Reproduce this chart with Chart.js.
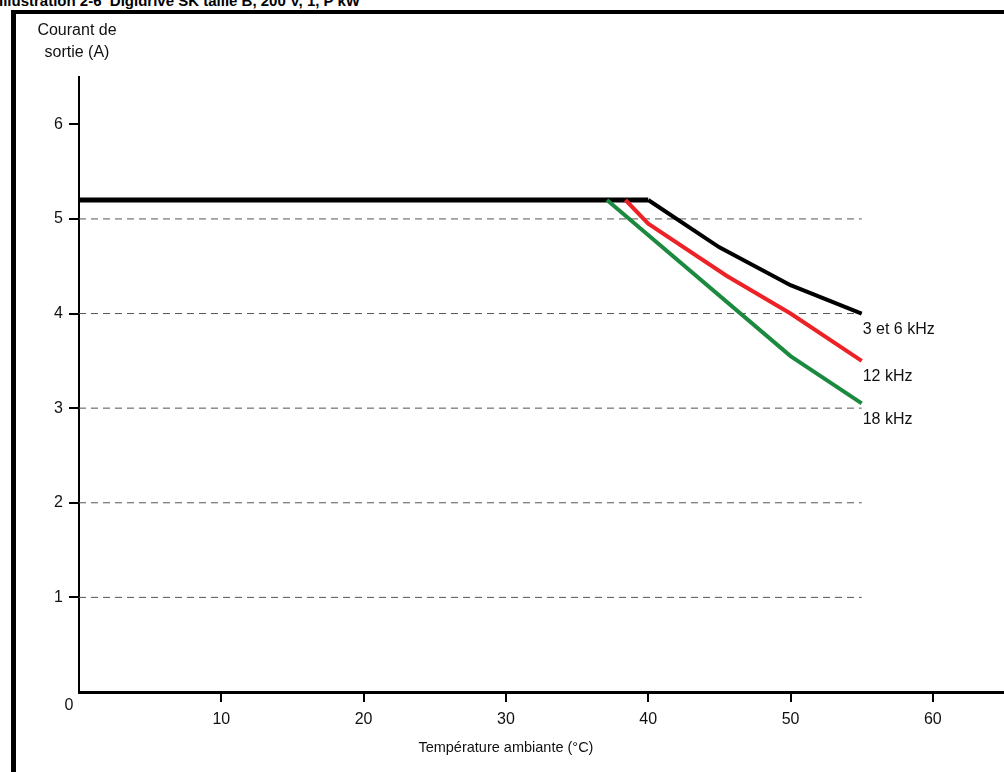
<!DOCTYPE html>
<html>
<head>
<meta charset="utf-8">
<script src="https://cdn.jsdelivr.net/npm/chart.js@4"></script>
<style>
  body { margin: 0; background: #fff; }
  #wrap { position: relative; width: 1004px; height: 772px; overflow: hidden; }
  #myChart { position: absolute; left: 0; top: 0; }
  .frameTop { position: absolute; left: 11px; top: 10px; width: 993px; height: 4px; background: #000; }
  .frameLeft { position: absolute; left: 11px; top: 10px; width: 5px; height: 762px; background: #000; }
  .cutTitle { position: absolute; left: -1px; top: -8px; font: bold 15px "Liberation Sans", Arial, sans-serif; white-space: pre; color: #000; }
</style>
</head>
<body>
<div id="wrap">
  <div class="cutTitle">Illustration 2-6  Digidrive SK taille B, 200 V, 1, P kW</div>
  <div class="frameTop"></div>
  <div class="frameLeft"></div>
  <canvas id="myChart" width="1004" height="772"></canvas>
</div>
<script>
// values
const tempBlack = [0, 40, 45, 50, 55];
const currBlack = [5.2, 5.2, 4.7, 4.3, 4.0];
const tempRed = [38.4, 40, 45.5, 50, 55];
const currRed = [5.2, 4.95, 4.4, 4.0, 3.5];
const tempGreen = [37.1, 50, 55];
const currGreen = [5.2, 3.55, 3.05];
const seriesLabels = ['3 et 6 kHz', '12 kHz', '18 kHz'];

const xTicks = [0, 10, 20, 30, 40, 50, 60];
const yTicks = [0, 1, 2, 3, 4, 5, 6];
const gridLevels = [1, 2, 3, 4, 5];
const gridEnd = 55;

const FONT = '"Liberation Sans", Arial, sans-serif';

function pts(xs, ys) {
  return xs.map(function (x, i) { return { x: x, y: ys[i] }; });
}

// series first so they sit on top of the dashed guide lines
const datasets = [
  { label: seriesLabels[2], data: pts(tempGreen, currGreen), borderColor: '#1b8a3f', borderWidth: 4, endLabel: true },
  { label: seriesLabels[1], data: pts(tempRed, currRed), borderColor: '#ec2227', borderWidth: 4, endLabel: true },
  {
    label: seriesLabels[0], data: pts(tempBlack, currBlack), borderColor: '#000', borderWidth: 4, endLabel: true,
    segment: { borderWidth: function (c) { return c.p0.parsed.y === c.p1.parsed.y ? 5 : 4; } }
  }
];
gridLevels.forEach(function (v) {
  datasets.push({
    label: 'grid' + v,
    data: [{ x: 0, y: v }, { x: gridEnd, y: v }],
    borderColor: '#555',
    borderWidth: 1,
    borderDash: [7, 5]
  });
});

const extraText = {
  id: 'extraText',
  afterDatasetsDraw(chart) {
    const c = chart.ctx;
    const xs = chart.scales.x, ys = chart.scales.y;
    c.save();
    c.fillStyle = '#111';
    c.font = '16px ' + FONT;
    c.textBaseline = 'middle';

    // end-of-line labels
    chart.data.datasets.forEach(function (ds, i) {
      if (!ds.endLabel) return;
      const meta = chart.getDatasetMeta(i);
      const last = meta.data[meta.data.length - 1];
      c.textAlign = 'left';
      c.fillText(ds.label, last.x + 1, last.y + 16);
    });

    // shared origin label
    c.textAlign = 'center';
    c.fillText('0', xs.getPixelForValue(0) - 10, ys.getPixelForValue(0) + 14);

    // y axis title, top-left
    c.fillText('Courant de', 77, 31);
    c.fillText('sortie (A)', 77, 53);

    // x axis title
    c.font = '14.5px ' + FONT;
    c.fillText('Température ambiante (°C)', xs.getPixelForValue(30), 748);
    c.restore();
  }
};

new Chart(document.getElementById('myChart'), {
  type: 'line',
  data: { datasets: datasets },
  options: {
    responsive: false,
    animation: false,
    events: [],
    layout: { padding: { top: 77, right: 0, left: 0, bottom: 0 } },
    elements: { point: { radius: 0 }, line: { tension: 0, borderCapStyle: 'butt' } },
    plugins: { legend: { display: false }, tooltip: { enabled: false } },
    scales: {
      x: {
        type: 'linear',
        min: 0,
        max: 65,
        afterBuildTicks: function (s) { s.ticks = xTicks.map(function (v) { return { value: v }; }); },
        afterFit: function (s) { s.height = 80; },
        border: { display: true, color: '#000', width: 3 },
        grid: {
          drawOnChartArea: false,
          drawTicks: true,
          tickLength: 10,
          lineWidth: 2,
          color: function (c) { return c.tick && c.tick.value === 0 ? 'rgba(0,0,0,0)' : '#000'; }
        },
        ticks: {
          padding: 8,
          color: '#111',
          font: { family: FONT, size: 16 },
          maxRotation: 0,
          callback: function (v) { return v === 0 ? '' : String(v); }
        }
      },
      y: {
        type: 'linear',
        min: 0,
        max: 6.5,
        afterBuildTicks: function (s) { s.ticks = yTicks.map(function (v) { return { value: v }; }); },
        afterFit: function (s) { s.width = 79; },
        border: { display: true, color: '#000', width: 2 },
        grid: {
          drawOnChartArea: false,
          drawTicks: true,
          tickLength: 10,
          lineWidth: 2,
          color: function (c) { return c.tick && c.tick.value === 0 ? 'rgba(0,0,0,0)' : '#000'; }
        },
        ticks: {
          padding: 6,
          color: '#111',
          font: { family: FONT, size: 16 },
          callback: function (v) { return v === 0 ? '' : String(v); }
        }
      }
    }
  },
  plugins: [extraText]
});
</script>
</body>
</html>
